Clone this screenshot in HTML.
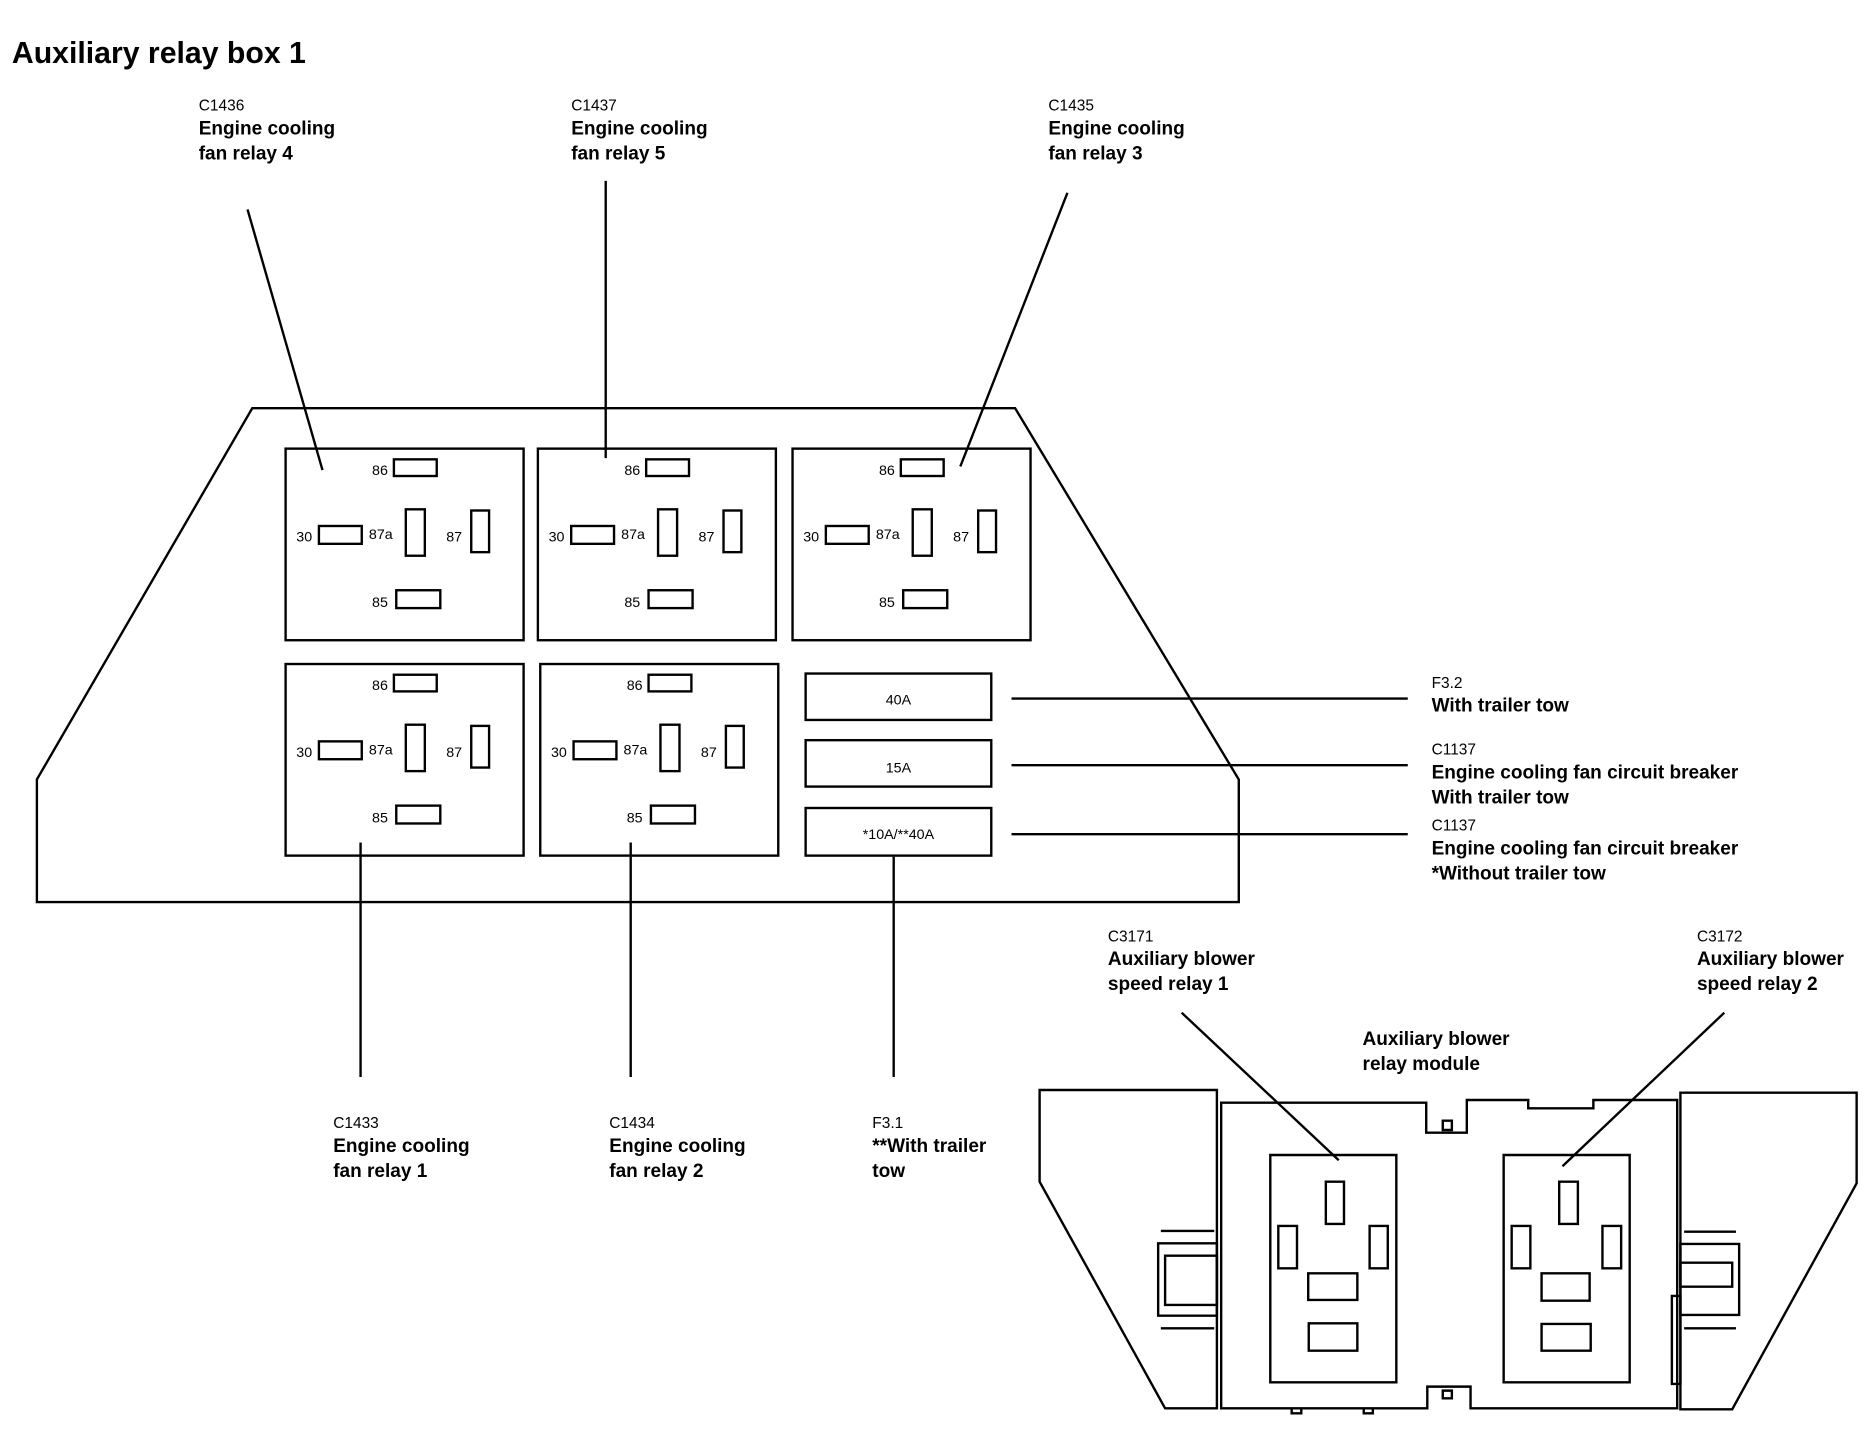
<!DOCTYPE html>
<html><head><meta charset="utf-8"><style>
html,body{margin:0;padding:0;background:#fff}
svg{display:block}
text{font-family:"Liberation Sans",Arial,sans-serif;fill:#000}
.h{font-size:16px;font-weight:bold}
.s{font-size:13px}
.p{font-size:12px}
</style></head><body>
<svg width="1866" height="1440" viewBox="0 0 1866 1440" xmlns="http://www.w3.org/2000/svg">
<defs>
<g id="relay">
<rect x="0" y="0" width="200" height="161" fill="none" stroke="#000" stroke-width="2"/>
<rect x="91" y="9" width="36" height="14" fill="none" stroke="#000" stroke-width="2"/>
<rect x="28" y="65" width="36" height="15" fill="none" stroke="#000" stroke-width="2"/>
<rect x="101" y="51" width="16" height="39" fill="none" stroke="#000" stroke-width="2"/>
<rect x="156" y="52" width="15" height="35" fill="none" stroke="#000" stroke-width="2"/>
<rect x="93" y="119" width="37" height="15" fill="none" stroke="#000" stroke-width="2"/>
<text class="p" x="86" y="22" text-anchor="end">86</text>
<text class="p" x="9" y="78">30</text>
<text class="p" x="70" y="76">87a</text>
<text class="p" x="135" y="78">87</text>
<text class="p" x="86" y="133" text-anchor="end">85</text>
</g>
</defs>
<g transform="scale(1.19)">
<text x="10" y="53" style="font-size:25.4px;font-weight:bold">Auxiliary relay box 1</text>
<polygon points="212,343 853,343 1041,655 1041,758 31,758 31,655" fill="none" stroke="#000" stroke-width="2"/>
<use href="#relay" x="240" y="377"/>
<use href="#relay" x="452" y="377"/>
<use href="#relay" x="666" y="377"/>
<use href="#relay" x="240" y="558"/>
<use href="#relay" x="454" y="558"/>
<rect x="677" y="566" width="156" height="39" fill="none" stroke="#000" stroke-width="2"/>
<rect x="677" y="622" width="156" height="39" fill="none" stroke="#000" stroke-width="2"/>
<rect x="677" y="679" width="156" height="40" fill="none" stroke="#000" stroke-width="2"/>
<text class="p" x="755" y="592" text-anchor="middle">40A</text>
<text class="p" x="755" y="649" text-anchor="middle">15A</text>
<text class="p" x="755" y="705" text-anchor="middle">*10A/**40A</text>
<g stroke="#000" stroke-width="2" fill="none">
<line x1="208" y1="176" x2="271" y2="395"/>
<line x1="509" y1="152" x2="509" y2="385"/>
<line x1="897" y1="162" x2="807" y2="392"/>
<line x1="303" y1="708" x2="303" y2="905"/>
<line x1="530" y1="708" x2="530" y2="905"/>
<line x1="751" y1="720" x2="751" y2="905"/>
<line x1="850" y1="587" x2="1183" y2="587"/>
<line x1="850" y1="643" x2="1183" y2="643"/>
<line x1="850" y1="701" x2="1183" y2="701"/>
</g>
<text class="s" x="167" y="93">C1436</text><text class="h" x="167" y="113">Engine cooling</text><text class="h" x="167" y="134">fan relay 4</text>
<text class="s" x="480" y="93">C1437</text><text class="h" x="480" y="113">Engine cooling</text><text class="h" x="480" y="134">fan relay 5</text>
<text class="s" x="881" y="93">C1435</text><text class="h" x="881" y="113">Engine cooling</text><text class="h" x="881" y="134">fan relay 3</text>
<text class="s" x="280" y="948">C1433</text><text class="h" x="280" y="968">Engine cooling</text><text class="h" x="280" y="989">fan relay 1</text>
<text class="s" x="512" y="948">C1434</text><text class="h" x="512" y="968">Engine cooling</text><text class="h" x="512" y="989">fan relay 2</text>
<text class="s" x="733" y="948">F3.1</text><text class="h" x="733" y="968">**With trailer</text><text class="h" x="733" y="989">tow</text>
<text class="s" x="1203" y="578">F3.2</text><text class="h" x="1203" y="598">With trailer tow</text>
<text class="s" x="1203" y="634">C1137</text><text class="h" x="1203" y="654">Engine cooling fan circuit breaker</text><text class="h" x="1203" y="675">With trailer tow</text>
<text class="s" x="1203" y="698">C1137</text><text class="h" x="1203" y="718">Engine cooling fan circuit breaker</text><text class="h" x="1203" y="739">*Without trailer tow</text>
<text class="s" x="931" y="791">C3171</text><text class="h" x="931" y="811">Auxiliary blower</text><text class="h" x="931" y="832">speed relay 1</text>
<text class="s" x="1426" y="791">C3172</text><text class="h" x="1426" y="811">Auxiliary blower</text><text class="h" x="1426" y="832">speed relay 2</text>
<text class="h" x="1145" y="878">Auxiliary blower</text><text class="h" x="1145" y="899">relay module</text>
<g stroke="#000" stroke-width="2"><line x1="993" y1="851" x2="1125" y2="975"/><line x1="1449" y1="851" x2="1313" y2="980"/></g>
</g>
<g transform="translate(1030,1080) scale(0.534,0.3333)" fill="none" stroke="#000" stroke-width="2.4">
<polygon vector-effect="non-scaling-stroke" points="18,30 350,30 350,985 253,985 18,305"/>
<polygon vector-effect="non-scaling-stroke" points="1218,38 1548,38 1548,310 1315,988 1218,988"/>
<path vector-effect="non-scaling-stroke" d="M358,68 H742 V158 H818 V60 H933 V85 H1055 V60 H1212 V985 H825 V920 H744 V985 H358 Z"/>
<rect vector-effect="non-scaling-stroke" x="773" y="122" width="17" height="28"/>
<rect vector-effect="non-scaling-stroke" x="773" y="932" width="17" height="23"/>
<path vector-effect="non-scaling-stroke" d="M490,985 V1000 H508 V985 M625,985 V1000 H642 V985"/>
<rect vector-effect="non-scaling-stroke" x="450" y="225" width="236" height="682"/>
<rect vector-effect="non-scaling-stroke" x="887" y="225" width="236" height="682"/>
<rect vector-effect="non-scaling-stroke" x="554" y="305" width="34" height="127"/>
<rect vector-effect="non-scaling-stroke" x="465" y="438" width="35" height="127"/>
<rect vector-effect="non-scaling-stroke" x="636" y="438" width="34" height="127"/>
<rect vector-effect="non-scaling-stroke" x="521" y="580" width="92" height="80"/>
<rect vector-effect="non-scaling-stroke" x="522" y="730" width="91" height="82"/>
<rect vector-effect="non-scaling-stroke" x="991" y="305" width="35" height="127"/>
<rect vector-effect="non-scaling-stroke" x="902" y="438" width="35" height="127"/>
<rect vector-effect="non-scaling-stroke" x="1072" y="438" width="35" height="127"/>
<rect vector-effect="non-scaling-stroke" x="958" y="580" width="90" height="82"/>
<rect vector-effect="non-scaling-stroke" x="958" y="732" width="92" height="80"/>
<line vector-effect="non-scaling-stroke" x1="245" y1="453" x2="345" y2="453"/><line vector-effect="non-scaling-stroke" x1="245" y1="745" x2="345" y2="745"/>
<rect vector-effect="non-scaling-stroke" x="240" y="490" width="110" height="217"/><rect vector-effect="non-scaling-stroke" x="253" y="527" width="97" height="148"/>
<line vector-effect="non-scaling-stroke" x1="1225" y1="455" x2="1322" y2="455"/><line vector-effect="non-scaling-stroke" x1="1225" y1="745" x2="1322" y2="745"/>
<rect vector-effect="non-scaling-stroke" x="1218" y="492" width="110" height="213"/><rect vector-effect="non-scaling-stroke" x="1218" y="548" width="97" height="72"/>
<rect vector-effect="non-scaling-stroke" x="1202" y="648" width="16" height="264"/>
</g>
</svg>
</body></html>
